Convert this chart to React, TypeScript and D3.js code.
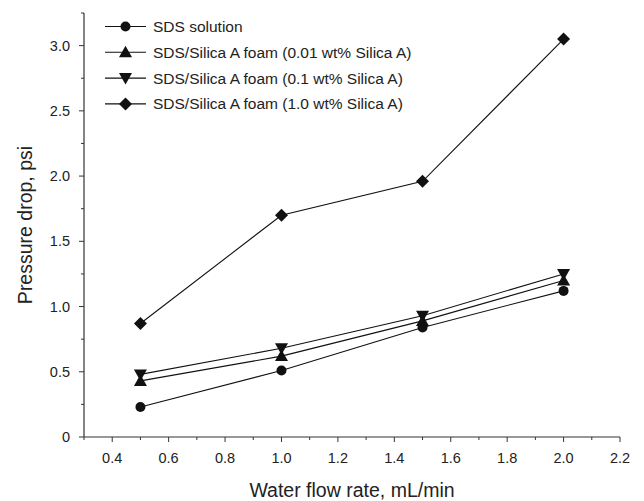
import React from "react";
import * as d3 from "d3";

const flowRates = [0.5, 1.0, 1.5, 2.0];
const sdsSolution = [0.23, 0.51, 0.84, 1.12];
const silica001 = [0.43, 0.62, 0.89, 1.2];
const silica01 = [0.48, 0.68, 0.93, 1.25];
const silica10 = [0.87, 1.7, 1.96, 3.05];
const seriesNames = [
  "SDS solution",
  "SDS/Silica A foam (0.01 wt% Silica A)",
  "SDS/Silica A foam (0.1 wt% Silica A)",
  "SDS/Silica A foam (1.0 wt% Silica A)",
];
const seriesValues = [sdsSolution, silica001, silica01, silica10];
const seriesMarkers = ["circle", "up", "down", "diamond"];
const xTicks = [0.4, 0.6, 0.8, 1.0, 1.2, 1.4, 1.6, 1.8, 2.0, 2.2];
const yTicks = [0, 0.5, 1.0, 1.5, 2.0, 2.5, 3.0];

const W = 644, H = 501;
const left = 84, right = 620, top = 13, bottom = 437;
const FONT = "'Liberation Sans', Arial, sans-serif";

function Marker({ type, x, y }: { type: string; x: number; y: number }) {
  const c = "#111";
  if (type === "circle") return <circle cx={x} cy={y} r={5} fill={c} />;
  if (type === "up")
    return <path d={`M${x},${y - 6.5}L${x + 6.5},${y + 5}L${x - 6.5},${y + 5}Z`} fill={c} />;
  if (type === "down")
    return <path d={`M${x},${y + 6.5}L${x + 6.5},${y - 5}L${x - 6.5},${y - 5}Z`} fill={c} />;
  return <path d={`M${x},${y - 6.5}L${x + 6.5},${y}L${x},${y + 6.5}L${x - 6.5},${y}Z`} fill={c} />;
}

export default function App() {
  const x = d3.scaleLinear().domain([0.3, 2.2]).range([left, right]);
  const y = d3.scaleLinear().domain([0, 3.25]).range([bottom, top]);
  const line = d3
    .line<number>()
    .x((_, i) => x(flowRates[i]))
    .y((d) => y(d));
  const xMinor = d3.range(0.3, 2.2001, 0.1).map((v) => +v.toFixed(2));
  const yMinor = d3.range(0, 3.2501, 0.25).map((v) => +v.toFixed(2));
  const axisColor = "#333";
  return (
    <svg width={W} height={H} style={{ position: "absolute", left: 0, top: 0 }}>
      <rect width={W} height={H} fill="#fff" />
      <line x1={left} x2={left} y1={top} y2={bottom} stroke={axisColor} strokeWidth={1.2} />
      <line x1={left} x2={right} y1={bottom} y2={bottom} stroke={axisColor} strokeWidth={1.2} />
      {xMinor.map((v) => {
        const major = xTicks.some((t) => Math.abs(t - v) < 1e-6);
        return (
          <line key={"xm" + v} x1={x(v)} x2={x(v)} y1={bottom} y2={bottom + (major ? 5 : 3)} stroke={axisColor} />
        );
      })}
      {yMinor.map((v) => {
        const major = yTicks.some((t) => Math.abs(t - v) < 1e-6);
        return (
          <line key={"ym" + v} x1={left} x2={left - (major ? 5 : 3)} y1={y(v)} y2={y(v)} stroke={axisColor} />
        );
      })}
      {xTicks.map((t) => (
        <text key={"xt" + t} x={x(t)} y={bottom + 26} textAnchor="middle" fontFamily={FONT} fontSize={14.5} fill="#222">
          {t.toFixed(1)}
        </text>
      ))}
      {yTicks.map((t) => (
        <text key={"yt" + t} x={left - 14} y={y(t) + 5} textAnchor="end" fontFamily={FONT} fontSize={14.5} fill="#222">
          {t === 0 ? "0" : t.toFixed(1)}
        </text>
      ))}
      <text x={352} y={497} textAnchor="middle" fontFamily={FONT} fontSize={19.5} fill="#222">
        Water flow rate, mL/min
      </text>
      <text
        transform={`translate(32,225) rotate(-90)`}
        textAnchor="middle"
        fontFamily={FONT}
        fontSize={19.5}
        fill="#222"
      >
        Pressure drop, psi
      </text>
      {seriesValues.map((vals, si) => (
        <g key={"s" + si}>
          <path d={line(vals) || ""} fill="none" stroke="#111" strokeWidth={1.1} />
          {vals.map((v, i) => (
            <Marker key={i} type={seriesMarkers[si]} x={x(flowRates[i])} y={y(v)} />
          ))}
        </g>
      ))}
      {seriesNames.map((name, i) => {
        const ly = 26.5 + i * 25.8;
        return (
          <g key={"l" + i}>
            <line x1={105} x2={146} y1={ly} y2={ly} stroke="#111" strokeWidth={1.1} />
            <Marker type={seriesMarkers[i]} x={125.5} y={ly} />
            <text x={153} y={ly + 5.5} fontFamily={FONT} fontSize={15.5} fill="#222">
              {name}
            </text>
          </g>
        );
      })}
    </svg>
  );
}
